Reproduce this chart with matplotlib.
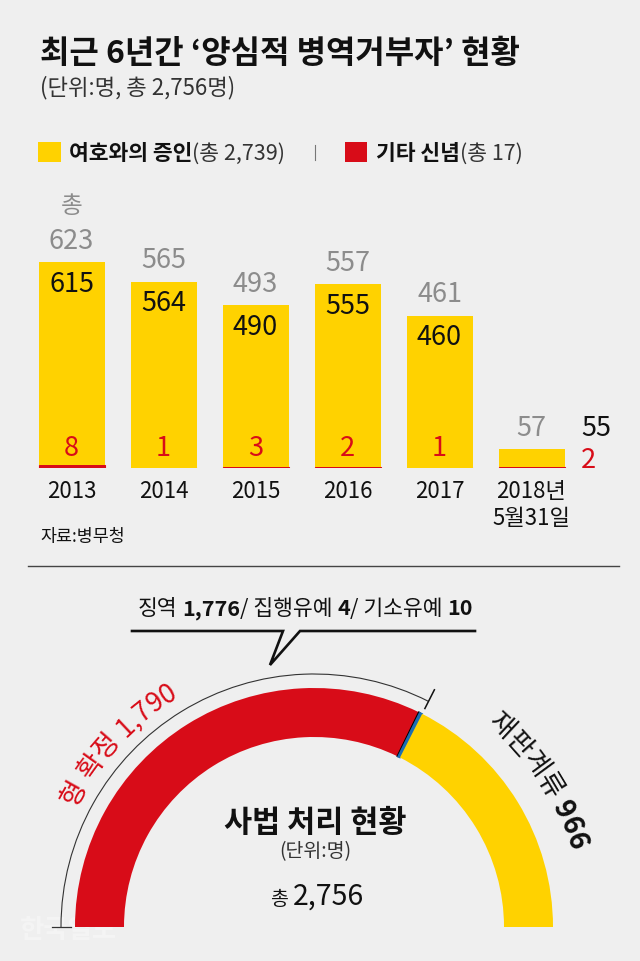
import matplotlib
matplotlib.use('Agg')
import matplotlib.pyplot as plt
from matplotlib.patches import Arc, Rectangle
from matplotlib.font_manager import FontProperties
import numpy as np

# ---------------- data ----------------
years = ['2013', '2014', '2015', '2016', '2017', '2018년\n5월31일']
jehovah = [615, 564, 490, 555, 460, 55]          # 여호와의 증인
other_belief = [8, 1, 3, 2, 1, 2]                 # 기타 신념
totals = [j + o for j, o in zip(jehovah, other_belief)]

legend_names = ['여호와의 증인', '기타 신념']
legend_totals = ['(총 2,739)', '(총 17)']

judicial_names = ['징역', '집행유예', '기소유예', '재판계류']
judicial_values = [1776, 4, 10, 966]
confirmed_value = sum(judicial_values[:3])        # 형 확정 1,790
grand_total = sum(judicial_values)                # 2,756

title = '최근 6년간 ‘양심적 병역거부자’ 현황'
subtitle = '(단위:명, 총 2,756명)'
source = '자료:병무청'

# ---------------- style ----------------
FONTS = ['Noto Sans CJK KR', 'DejaVu Sans']
plt.rcParams['font.family'] = FONTS
BG = '#efefef'
YELLOW = '#ffd200'
RED = '#d80c18'
BLUE = '#1c6db3'
DARK = '#111111'
GRAY = '#8c8c8c'

W, H = 640, 961
fig = plt.figure(figsize=(W / 100, H / 100), dpi=100, facecolor=BG)
renderer = fig.canvas.get_renderer()

base = fig.add_axes([0, 0, 1, 1])
base.set_xlim(0, W)
base.set_ylim(H, 0)
base.axis('off')


def text_width(s, size, weight='normal'):
    if s == '':
        return 0.0
    fp = FontProperties(family=FONTS, size=size, weight=weight)
    w1, _, _ = renderer.get_text_width_height_descent('|' + s + '|', fp, ismath=False)
    w0, _, _ = renderer.get_text_width_height_descent('||', fp, ismath=False)
    return w1 - w0


def runs(ax, x, y, parts, ha='left'):
    widths = [text_width(s, sz, wt) for s, sz, wt, c in parts]
    if ha == 'center':
        x -= sum(widths) / 2
    for (s, sz, wt, c), w in zip(parts, widths):
        st = s.lstrip(' ')
        lead = text_width(s[:len(s) - len(st)], sz, wt)
        st = st.rstrip(' ')
        if st:
            ax.text(x + lead, y, st, fontsize=sz, fontweight=wt, color=c,
                    ha='left', va='baseline')
        x += w


def arc_text(ax, parts, center_deg, r):
    chars = [(ch, sz, wt, c) for s, sz, wt, c in parts for ch in s]
    widths = [text_width(ch, sz, wt) for ch, sz, wt, c in chars]
    start = np.radians(center_deg) + sum(widths) / 2 / r
    cum = 0.0
    for (ch, sz, wt, c), w in zip(chars, widths):
        a = start - (cum + w / 2) / r
        cum += w
        if ch == ' ':
            continue
        ax.text(r * np.cos(a), r * np.sin(a), ch, fontsize=sz, fontweight=wt,
                color=c, rotation=np.degrees(a) - 90, rotation_mode='anchor',
                ha='center', va='baseline')


# ---------------- header ----------------
base.text(40, 63, title, fontsize=23, fontweight='bold', color=DARK, va='baseline')
base.text(40, 94, subtitle, fontsize=16, color='#333333', va='baseline')

base.add_patch(Rectangle((38, 142), 23, 20, color=YELLOW, lw=0))
runs(base, 69, 160, [(legend_names[0], 15.5, 'bold', DARK), (legend_totals[0], 15.5, 'normal', '#333333')])
base.plot([315, 315], [145, 160], color='#777777', lw=0.8)
base.add_patch(Rectangle((345, 142), 22, 20, color=RED, lw=0))
runs(base, 376, 160, [(legend_names[1], 15.5, 'bold', DARK), (legend_totals[1], 15.5, 'normal', '#333333')])

# ---------------- bar chart ----------------
PX_PER_UNIT = 0.33
BASE_Y = 468
AX_H = 300
bax = fig.add_axes([0, (H - BASE_Y) / H, 1, AX_H / H])
bax.set_facecolor('none')
bax.axis('off')
x0 = (0 - 71.5) / 92
x1 = (W - 71.5) / 92
bax.set_xlim(x0, x1)
bax.set_ylim(0, AX_H / PX_PER_UNIT)

xs = np.arange(len(years))
bw = 66 / 92
bax.bar(xs, other_belief, width=bw, color=RED, edgecolor=RED, linewidth=0.8)
bax.bar(xs, jehovah, width=bw, bottom=other_belief, color=YELLOW, linewidth=0)

NUM = 19.5
for i in xs:
    last = (i == len(years) - 1)
    bax.annotate(str(totals[i]), (i, totals[i]), xytext=(0, 21), textcoords='offset pixels',
                 ha='center', va='center', fontsize=NUM, color=GRAY)
    if i == 0:
        bax.annotate('총', (i, totals[i]), xytext=(0, 56), textcoords='offset pixels',
                     ha='center', va='center', fontsize=17, color=GRAY)
    if not last:
        bax.annotate(str(jehovah[i]), (i, totals[i]), xytext=(0, -22), textcoords='offset pixels',
                     ha='center', va='center', fontsize=NUM, color=DARK)
        bax.annotate(str(other_belief[i]), (i, 0), xytext=(0, 20), textcoords='offset pixels',
                     ha='center', va='center', fontsize=NUM, color=RED)
    else:
        bax.annotate(str(jehovah[i]), (i, totals[i]), xytext=(65, 21), textcoords='offset pixels',
                     ha='center', va='center', fontsize=NUM, color=DARK)
        bax.annotate(str(other_belief[i]), (i, 0), xytext=(57, 8), textcoords='offset pixels',
                     ha='center', va='center', fontsize=NUM, color=RED)
    for k, line in enumerate(years[i].split('\n')):
        bax.annotate(line, (i, 0), xytext=(0, -30 - 27 * k), textcoords='offset pixels',
                     ha='center', va='baseline', fontsize=16, color=DARK)

base.text(40, 542, source, fontsize=12.5, color=DARK, va='baseline')
base.plot([28, 619], [566, 566], color='#444444', lw=1)

# ---------------- semicircle ----------------
CX, CY = 314, 927
R_OUT, R_IN = 239, 190
pax = fig.add_axes([0, 0, 1, 1])
pax.set_facecolor('none')
vals = judicial_values + [grand_total]
wedges, _ = pax.pie(vals, colors=[RED, 'black', BLUE, YELLOW, 'none'], startangle=180,
                    counterclock=False, radius=R_OUT, center=(0, 0),
                    wedgeprops=dict(width=R_OUT - R_IN, linewidth=0))
wedges[1].set_edgecolor('black'); wedges[1].set_linewidth(1.1)
wedges[2].set_edgecolor(BLUE); wedges[2].set_linewidth(1.1)
pax.set_aspect('auto')
pax.set_xlim(-CX, W - CX)
pax.set_ylim(-(H - CY), CY)
pax.axis('off')

end_deg = 180 * (1 - confirmed_value / grand_total)
R_ARC = 253
pax.add_patch(Arc((0, 0), 2 * R_ARC, 2 * R_ARC, theta1=end_deg, theta2=180, lw=0.8, color='#333333'))
pax.plot([-262, -243], [0, 0], color='#333333', lw=0.9)
ea = np.radians(end_deg)
pax.plot([245 * np.cos(ea), 266 * np.cos(ea)], [245 * np.sin(ea), 266 * np.sin(ea)], color='#111111', lw=1.1)

arc_text(pax, [('형 확정 1,790', 19.5, 'normal', RED)], 137, 267)
arc_text(pax, [('재판계류', 19.5, 'normal', DARK), (' 966', 20, 'bold', DARK)], 33, 267)

# callout
runs(base, 305, 615, [('징역 ', 15.5, 'normal', DARK), ('1,776', 15.5, 'bold', DARK),
                      ('/ 집행유예 ', 15.5, 'normal', DARK), ('4', 15.5, 'bold', DARK),
                      ('/ 기소유예 ', 15.5, 'normal', DARK), ('10', 15.5, 'bold', DARK)], ha='center')
base.plot([132, 283, 270, 300, 475], [631, 631, 665, 631, 631], color=DARK, lw=1.9,
          solid_joinstyle='miter')

# center labels
base.text(315, 832, '사법 처리 현황', fontsize=22, fontweight='bold', color=DARK,
          ha='center', va='baseline')
base.text(315, 857, '(단위:명)', fontsize=14, color='#333333', ha='center', va='baseline')
runs(base, 317, 905, [('총 ', 14, 'normal', DARK), (f'{grand_total:,}', 20.5, 'normal', DARK)], ha='center')

# watermark
base.text(20, 938, '한국일보', fontsize=19, fontweight='bold', color='white', alpha=0.35,
          va='baseline', zorder=10)

fig.savefig('out.png', dpi=100, facecolor=BG)
